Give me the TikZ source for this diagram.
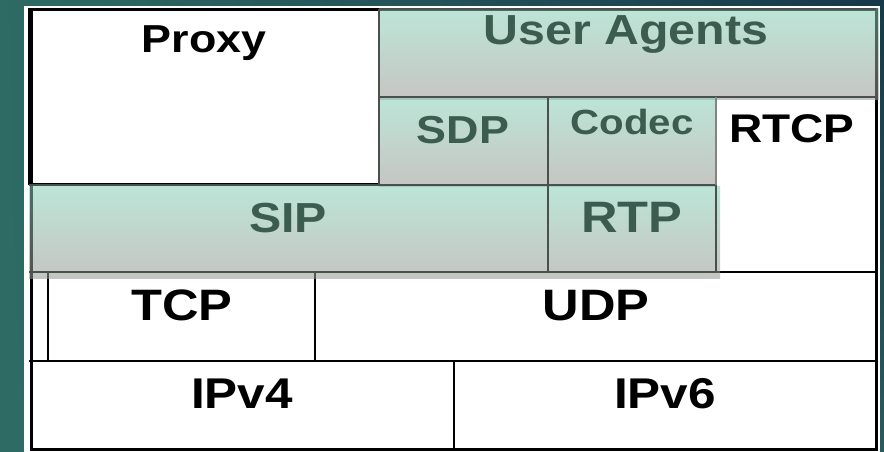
\documentclass[tikz,border=0pt]{standalone}
\usepackage{fontspec}
\usetikzlibrary{shadings}
\newfontfamily\labfont[FakeStretch=1.15]{Liberation Sans}
\definecolor{bgteal}{HTML}{2E6B64}
\definecolor{bgnavy}{HTML}{17384A}
\definecolor{bgdeep}{HTML}{285B5B}
\definecolor{greentop}{RGB}{135,208,184}
\definecolor{greenbot}{RGB}{151,151,144}
\definecolor{greentext}{HTML}{3D5C50}
\definecolor{cellline}{HTML}{4A504D}
\tikzset{
  greenfill/.style={top color=greentop, bottom color=greenbot, fill opacity=0.55, draw=none},
  cell/.style={draw=cellline, line width=1.3pt},
  blackline/.style={draw=black, line width=1.6pt},
  lab/.style={font=\labfont\bfseries, anchor=base, inner sep=0pt},
  greenlab/.style={lab, text=greentext},
  whitelab/.style={lab, text=black},
}
\begin{document}
\begin{tikzpicture}[x=1pt, y=-1pt]
  \useasboundingbox (0,0) rectangle (884,452);
  % slide background
  \shade[upper left=bgteal, lower left=bgteal, upper right=bgnavy, lower right=bgdeep]
    (0,0) rectangle (884,452);
  % white sheet with the heavy black frame
  \fill[white] (24,6) rectangle (880,452);
  \draw[black, line width=3pt] (31,9.5) rectangle (876.5,449.5);

  % white cells of the lower stack
  \draw[blackline] (29,272) -- (876,272);
  \draw[blackline] (48,272) -- (48,361);
  \draw[blackline] (315,272) -- (315,361);
  \draw[black, line width=2.2pt] (29,361) -- (876,361);
  \draw[blackline] (454,361) -- (454,448);

  % proxy cell
  \draw[blackline] (29,9) rectangle (379,184);

  % translucent green bands
  \path[greenfill] (379,9) rectangle (879,100);
  \path[greenfill] (379,97) rectangle (716,186);
  \path[greenfill] (29,186) rectangle (720,278);

  % green cell outlines
  \draw[cell] (379,9) -- (876,9) (379,97) -- (876,97) (379,9) -- (379,97);
  \draw[cell] (379,97) rectangle (548,185);
  \draw[cell] (548,97) rectangle (716,185);
  \draw[cell] (716,185) -- (716,272);
  \draw[cell] (29,185) -- (716,185);
  \draw[cell] (29,272) -- (716,272);
  \draw[cell] (548,185) -- (548,272);
  \draw[cellline!70, line width=1.3pt] (716,97) -- (716,185);

  % labels
  \node[whitelab, font=\labfont\bfseries\fontsize{39}{39}\selectfont] (proxy) at (204,53) {Proxy};
  \node[greenlab, font=\labfont\bfseries\fontsize{42}{42}\selectfont] (ua) at (626,45) {User Agents};
  \node[greenlab, font=\labfont\bfseries\fontsize{39}{39}\selectfont] (sdp) at (463,143) {SDP};
  \node[greenlab, font=\labfont\bfseries\fontsize{35}{35}\selectfont] (codec) at (632,135) {Codec};
  \node[whitelab, font=\labfont\bfseries\fontsize{40}{40}\selectfont] (rtcp) at (792,142) {RTCP};
  \node[greenlab, font=\labfont\bfseries\fontsize{42}{42}\selectfont] (sip) at (288,232) {SIP};
  \node[greenlab, font=\labfont\bfseries\fontsize{44}{44}\selectfont] (rtp) at (632,232) {RTP};
  \node[whitelab, font=\labfont\bfseries\fontsize{44}{44}\selectfont] (tcp) at (182,320) {TCP};
  \node[whitelab, font=\labfont\bfseries\fontsize{44}{44}\selectfont] (udp) at (596,320) {UDP};
  \node[whitelab, font=\labfont\bfseries\fontsize{43}{43}\selectfont] (ipv4) at (242,408) {IPv4};
  \node[whitelab, font=\labfont\bfseries\fontsize{43}{43}\selectfont] (ipv6) at (665,408) {IPv6};
\end{tikzpicture}
\end{document}
